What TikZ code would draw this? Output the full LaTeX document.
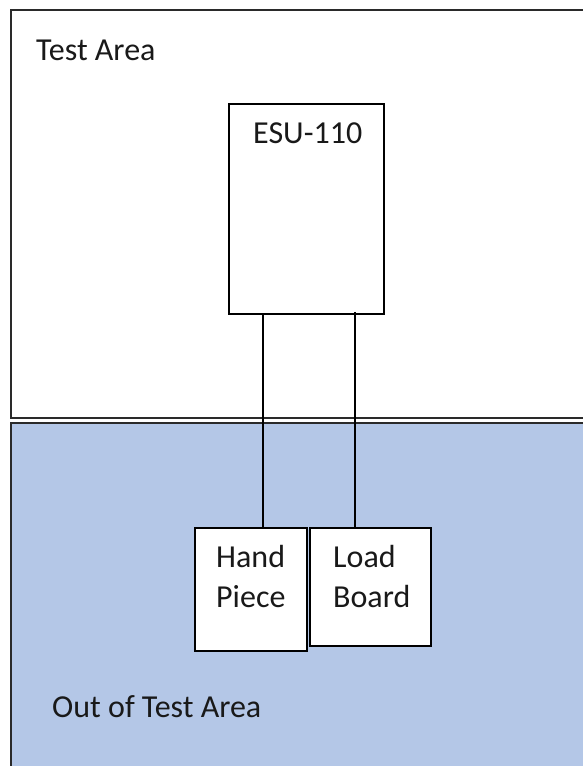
\documentclass[tikz,border=0pt]{standalone}
\usepackage{fontspec}
\setmainfont{Carlito}
\definecolor{outfill}{HTML}{B4C7E7}
\definecolor{edge}{HTML}{2A2A2A}
\tikzset{
  areabox/.style={draw=edge, line width=2pt},
  unitbox/.style={draw=black, line width=1.8pt, fill=white, inner sep=0pt, anchor=north west},
  lbl/.style={inner sep=0pt, anchor=base west, font=\fontsize{32}{40}\selectfont, text=black!90},
  wire/.style={draw=black, line width=1.8pt}
}
\begin{document}
\begin{tikzpicture}[x=1pt,y=-1pt]
\useasboundingbox (0,0) rectangle (583,766);
\begin{scope}
\clip (0,0) rectangle (583,766);
\draw[areabox, fill=white] (11,10) rectangle (600,418);
\draw[areabox, fill=outfill] (11,423) rectangle (600,790);
\end{scope}
\node[lbl] (testarea) at (36,60) {Test Area};
\node[lbl] (outarea) at (52,717) {Out of Test Area};
\node[unitbox, minimum width=155pt, minimum height=210pt] (esu) at (228,103) {};
\node[lbl] (esulbl) at (253,143) {ESU-110};
\node[unitbox, minimum width=112pt, minimum height=123pt] (hp) at (194,527) {};
\node[unitbox, minimum width=121pt, minimum height=118pt] (lb) at (309,527) {};
\node[lbl] (hand) at (216,567) {Hand};
\node[lbl] (piece) at (216,607) {Piece};
\node[lbl] (load) at (333,567) {Load};
\node[lbl] (board) at (333,607) {Board};
\coordinate (w1top) at ([xshift=35pt]esu.south west);
\coordinate (w2top) at ([xshift=127pt,yshift=3pt]esu.south west);
\draw[wire] (w1top) -- (w1top |- hp.north);
\draw[wire] (w2top) -- (w2top |- lb.north);
\end{tikzpicture}
\end{document}
